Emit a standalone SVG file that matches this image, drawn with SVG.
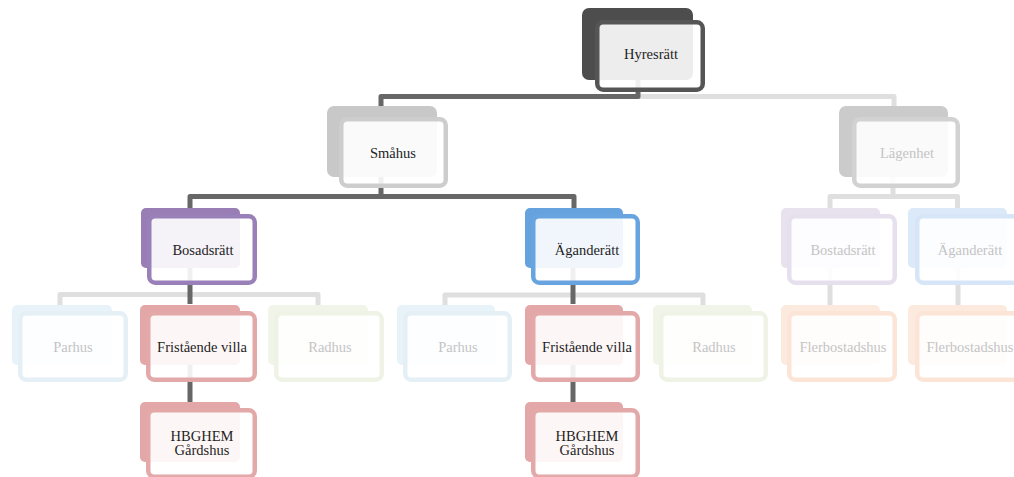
<svg xmlns="http://www.w3.org/2000/svg" width="1014" height="477" viewBox="0 0 1014 477">
<style>
.bk{stroke:none}
.fr{fill:#ffffff;fill-opacity:0.9;stroke-width:4.5}
.t{font-family:"Liberation Serif","Times New Roman",serif;font-size:14.5px;text-anchor:middle;fill:#1e1e1e}
.f{fill:#c4c4c4}
.cd{fill:none;stroke:#676767;stroke-width:5;stroke-linejoin:round}
.cl{fill:none;stroke:#dfdfdf;stroke-width:5;stroke-linejoin:round}
</style>
<rect width="1014" height="477" fill="#ffffff"/>
<g id="connectors">
<path class="cl" d="M638 96.5H894V110"/>
<path class="cd" d="M638 78V96.5H381V110"/>
<path class="cd" d="M381 175V196.5M190 210V196.5H574V210"/>
<path class="cl" d="M893 175V196.5M830 210V196.5H957.5V210"/>
<path class="cl" d="M60 307V294.5H318V307"/>
<path class="cd" d="M190 266V304"/>
<path class="cd" d="M190 362V404"/>
<path class="cl" d="M445 307V295H703V307"/>
<path class="cd" d="M573 266V304"/>
<path class="cd" d="M573 362V404"/>
<path class="cl" d="M830 266V307"/>
<path class="cl" d="M958 266V307"/>
</g>
<g id="hyresratt">
<rect class="bk" x="582" y="8" width="111" height="72" rx="7" fill="#4d4d4d"/>
<rect class="fr" x="597.25" y="22.25" width="105.5" height="67.5" rx="6" stroke="#555555"/>
<text class="t" x="651" y="59">Hyresrätt</text>
</g>
<g id="smahus">
<rect class="bk" x="327" y="106" width="110" height="71" rx="7" fill="#c8c8c8"/>
<rect class="fr" x="341.25" y="119.25" width="104.5" height="66.5" rx="6" stroke="#cdcdcd"/>
<text class="t" x="393" y="158">Småhus</text>
</g>
<g id="lagenhet">
<rect class="bk" x="839" y="106" width="109" height="71" rx="7" fill="#cbcbcb"/>
<rect class="fr" x="854.25" y="119.25" width="103.5" height="66.5" rx="6" stroke="#d2d2d2"/>
<text class="t f" x="907" y="158">Lägenhet</text>
</g>
<g id="bosadsratt">
<rect class="bk" x="141" y="208" width="99" height="60" rx="5" fill="#997db5"/>
<rect class="fr" x="149.25" y="216.25" width="105.5" height="66.5" rx="6" stroke="#9a80b8"/>
<text class="t" x="203" y="255">Bosadsrätt</text>
</g>
<g id="aganderatt">
<rect class="bk" x="525" y="208" width="98" height="60" rx="5" fill="#66a2de"/>
<rect class="fr" x="533.25" y="216.25" width="104.5" height="66.5" rx="6" stroke="#68a4df"/>
<text class="t" x="587" y="255">Äganderätt</text>
</g>
<g id="bostadsratt-lgh">
<rect class="bk" x="781" y="208" width="99" height="60" rx="5" fill="#e8e2ef"/>
<rect class="fr" x="789.25" y="216.25" width="105.5" height="66.5" rx="6" stroke="#e6e0ee"/>
<text class="t f" x="843" y="255">Bostadsrätt</text>
</g>
<g id="aganderatt-lgh">
<rect class="bk" x="908" y="208" width="99" height="60" rx="5" fill="#dce9f8"/>
<rect class="fr" x="917.25" y="216.25" width="105.5" height="66.5" rx="6" stroke="#d6e6f8"/>
<text class="t f" x="970" y="255">Äganderätt</text>
</g>
<g id="parhus-1">
<rect class="bk" x="12" y="305" width="100" height="60" rx="5" fill="#e8f3f9"/>
<rect class="fr" x="20.25" y="313.25" width="105.5" height="66.5" rx="6" stroke="#e4f0f6"/>
<text class="t f" x="73" y="352">Parhus</text>
</g>
<g id="fristaende-1">
<rect class="bk" x="140" y="305" width="100" height="60" rx="5" fill="#e3a7a7"/>
<rect class="fr" x="148.25" y="313.25" width="106.5" height="66.5" rx="6" stroke="#e3a8a8"/>
<text class="t" x="202" y="352">Fristående villa</text>
</g>
<g id="radhus-1">
<rect class="bk" x="268" y="305" width="100" height="60" rx="5" fill="#f1f5e9"/>
<rect class="fr" x="276.25" y="313.25" width="105.5" height="66.5" rx="6" stroke="#eef3e5"/>
<text class="t f" x="330" y="352">Radhus</text>
</g>
<g id="hbghem-1">
<rect class="bk" x="140" y="402" width="100" height="60" rx="5" fill="#e3a7a7"/>
<rect class="fr" x="148.25" y="410.25" width="106.5" height="66.5" rx="6" stroke="#e3a8a8"/>
<text class="t" x="202" y="441">HBGHEM</text>
<text class="t" x="202" y="455">Gårdshus</text>
</g>
<g id="parhus-2">
<rect class="bk" x="397" y="305" width="98" height="60" rx="5" fill="#e8f3f9"/>
<rect class="fr" x="405.25" y="313.25" width="104.5" height="66.5" rx="6" stroke="#e4f0f6"/>
<text class="t f" x="458" y="352">Parhus</text>
</g>
<g id="fristaende-2">
<rect class="bk" x="525" y="305" width="98" height="60" rx="5" fill="#e3a7a7"/>
<rect class="fr" x="533.25" y="313.25" width="104.5" height="66.5" rx="6" stroke="#e3a8a8"/>
<text class="t" x="587" y="352">Fristående villa</text>
</g>
<g id="radhus-2">
<rect class="bk" x="653" y="305" width="99" height="60" rx="5" fill="#f1f5e9"/>
<rect class="fr" x="661.25" y="313.25" width="104.5" height="66.5" rx="6" stroke="#eef3e5"/>
<text class="t f" x="714" y="352">Radhus</text>
</g>
<g id="hbghem-2">
<rect class="bk" x="525" y="402" width="98" height="60" rx="5" fill="#e3a7a7"/>
<rect class="fr" x="533.25" y="410.25" width="104.5" height="66.5" rx="6" stroke="#e3a8a8"/>
<text class="t" x="587" y="441">HBGHEM</text>
<text class="t" x="587" y="455">Gårdshus</text>
</g>
<g id="flerbostadshus-1">
<rect class="bk" x="781" y="305" width="99" height="60" rx="5" fill="#fdeadf"/>
<rect class="fr" x="789.25" y="313.25" width="105.5" height="66.5" rx="6" stroke="#fce5d6"/>
<text class="t f" x="843" y="352">Flerbostadshus</text>
</g>
<g id="flerbostadshus-2">
<rect class="bk" x="908" y="305" width="99" height="60" rx="5" fill="#fdeadf"/>
<rect class="fr" x="917.25" y="313.25" width="105.5" height="66.5" rx="6" stroke="#fce5d6"/>
<text class="t f" x="970" y="352">Flerbostadshus</text>
</g>
</svg>
